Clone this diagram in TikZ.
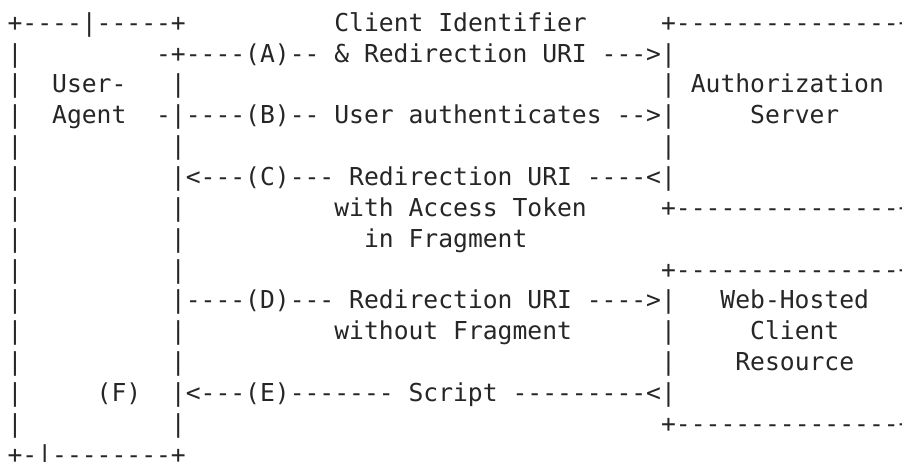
\documentclass[tikz,border=0pt]{standalone}
\usepackage{fontspec}
\setmonofont{DejaVu Sans Mono}
\newcommand\asp[1]{\hskip#1\fontcharwd\font`x\relax}
\tikzset{
  ascii/.style={anchor=base west, inner sep=0pt, outer sep=0pt,
    font=\ttfamily\fontsize{24.67pt}{30.86pt}\selectfont, text=black!85}
}
\begin{document}
\begin{tikzpicture}[x=1pt,y=1pt]
\useasboundingbox (0,0) rectangle (902,-462);
\clip (0,0) rectangle (902,-462);
\fill[white] (0,0) rectangle (902,-462);
\def\lx{7.6}
\def\ly#1{{-31.2-30.86*(#1-1)}}
\node[ascii] (l1)  at (\lx,\ly{1})  {+----|-----+\asp{10}Client Identifier\asp{5}+---------------+};
\node[ascii] (l2)  at (\lx,\ly{2})  {|\asp{9}-+----(A)-- \& Redirection URI --->|\asp{15}|};
\node[ascii] (l3)  at (\lx,\ly{3})  {|\asp{2}User-\asp{3}|\asp{32}| Authorization |};
\node[ascii] (l4)  at (\lx,\ly{4})  {|\asp{2}Agent\asp{2}-|----(B)-- User authenticates -->|\asp{5}Server\asp{4}|};
\node[ascii] (l5)  at (\lx,\ly{5})  {|\asp{10}|\asp{32}|\asp{15}|};
\node[ascii] (l6)  at (\lx,\ly{6})  {|\asp{10}|<---(C)--- Redirection URI ----<|\asp{15}|};
\node[ascii] (l7)  at (\lx,\ly{7})  {|\asp{10}|\asp{10}with Access Token\asp{5}+---------------+};
\node[ascii] (l8)  at (\lx,\ly{8})  {|\asp{10}|\asp{12}in Fragment};
\node[ascii] (l9)  at (\lx,\ly{9})  {|\asp{10}|\asp{32}+---------------+};
\node[ascii] (l10) at (\lx,\ly{10}) {|\asp{10}|----(D)--- Redirection URI ---->|\asp{3}Web-Hosted\asp{2}|};
\node[ascii] (l11) at (\lx,\ly{11}) {|\asp{10}|\asp{10}without Fragment\asp{6}|\asp{5}Client\asp{4}|};
\node[ascii] (l12) at (\lx,\ly{12}) {|\asp{10}|\asp{32}|\asp{4}Resource\asp{3}|};
\node[ascii] (l13) at (\lx,\ly{13}) {|\asp{5}(F)\asp{2}|<---(E)------- Script ---------<|\asp{15}|};
\node[ascii] (l14) at (\lx,\ly{14}) {|\asp{10}|\asp{32}+---------------+};
\node[ascii] (l15) at (\lx,\ly{15}) {+-|--------+};
\end{tikzpicture}
\end{document}
